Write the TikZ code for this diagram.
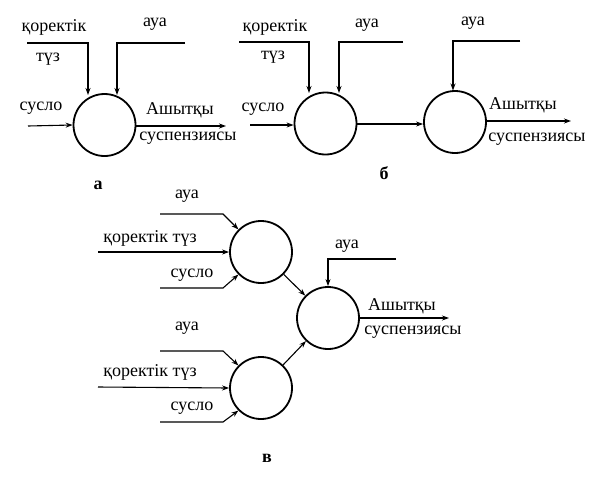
\documentclass[tikz,border=0pt]{standalone}
\usepackage{fontspec}
\setmainfont{Liberation Serif}
\usetikzlibrary{arrows.meta}
\begin{document}
\begin{tikzpicture}[x=1pt,y=-1pt,
  vessel/.style={circle,draw,line width=1.8pt,minimum size=62pt,inner sep=0pt},
  flow/.style={line width=1.1pt,-{Stealth[length=7pt,width=5pt]}},
  lbl/.style={font=\fontsize{18}{18}\selectfont,inner sep=0pt},
  panelcap/.style={font=\bfseries\fontsize{18}{18}\selectfont,inner sep=0pt}]
\useasboundingbox (0,0) rectangle (604,480);
% ---------- panel a ----------
\node[vessel] (a1) at (104.5,125) {};
\coordinate (aK) at (27,43);
\coordinate (aA) at (185,43);
\coordinate (aS) at (28,126);
\coordinate (aO) at (226,126);
\draw[flow] (aK) -- (88,43) -- (88,95);
\draw[flow] (aA) -- (117,43) -- (117,95);
\draw[flow] (aS) -- (a1.west);
\draw[flow] (a1.east |- aO) -- (aO);
\node[lbl] (aKt) at (54,27) {қоректік};
\node[lbl] (aTt) at (48,59) {түз};
\node[lbl] (aAt) at (155,24) {ауа};
\node[lbl] (aSt) at (41,108) {сусло};
\node[lbl] (aOt1) at (180,110) {Ашытқы};
\node[lbl] (aOt2) at (188,138) {суспензиясы};
\node[panelcap] (capA) at (98,185) {а};
% ---------- panel b ----------
\node[vessel] (b1) at (325.5,123.5) {};
\node[vessel] (b2) at (455,122) {};
\coordinate (bK) at (239,42);
\coordinate (bA) at (403,42);
\coordinate (bA2) at (520,41);
\coordinate (bS) at (250,125);
\coordinate (bO) at (571,121);
\draw[flow] (bK) -- (309,42) -- (309,93);
\draw[flow] (bA) -- (339,42) -- (339,93);
\draw[flow] (bA2) -- (453,41) -- (453,90.5);
\draw[flow] (bS) -- (b1.west |- bS);
\draw[flow] (b1.east |- 0,124) -- (b2.west |- 0,124);
\draw[flow] (b2.east |- bO) -- (bO);
\node[lbl] (bKt) at (275,27) {қоректік};
\node[lbl] (bTt) at (273,57) {түз};
\node[lbl] (bAt) at (367,25) {ауа};
\node[lbl] (bA2t) at (473,23) {ауа};
\node[lbl] (bSt) at (263,109) {сусло};
\node[lbl] (bOt1) at (523,105) {Ашытқы};
\node[lbl] (bOt2) at (537,139) {суспензиясы};
\node[panelcap] (capB) at (384,173) {б};
% ---------- panel v ----------
\node[vessel] (c1) at (261,252) {};
\node[vessel] (c2) at (261,388) {};
\node[vessel] (c3) at (328,318) {};
\coordinate (c1A) at (160,214);
\coordinate (c1K) at (98,252);
\coordinate (c1S) at (160,288);
\coordinate (c2A) at (160,351);
\coordinate (c2K) at (98,387);
\coordinate (c2S) at (160,422);
\coordinate (c3A) at (396,259);
\coordinate (c3O) at (449,318);
\draw[flow] (c1A) -- (223,214) -- (c1.135);
\draw[flow] (c1K) -- (c1.west);
\draw[flow] (c1S) -- (223,288) -- (c1.225);
\draw[flow] (c2A) -- (223,351) -- (c2.135);
\draw[flow] (c2K) -- (c2.west);
\draw[flow] (c2S) -- (223,422) -- (c2.225);
\draw[flow] (c1) -- (c3);
\draw[flow] (c2) -- (c3);
\draw[flow] (c3A) -- (328,259) -- (c3.north);
\draw[flow] (c3.east) -- (c3O);
\node[lbl] (c1At) at (187,196) {ауа};
\node[lbl] (c1Kt) at (150,238) {қоректік түз};
\node[lbl] (c1St) at (192,275) {сусло};
\node[lbl] (c2At) at (187,328) {ауа};
\node[lbl] (c2Kt) at (150,372) {қоректік түз};
\node[lbl] (c2St) at (192,408) {сусло};
\node[lbl] (c3At) at (347,246) {ауа};
\node[lbl] (c3Ot1) at (402,306) {Ашытқы};
\node[lbl] (c3Ot2) at (413,332) {суспензиясы};
\node[panelcap] (capV) at (267,458) {в};
\end{tikzpicture}
\end{document}
